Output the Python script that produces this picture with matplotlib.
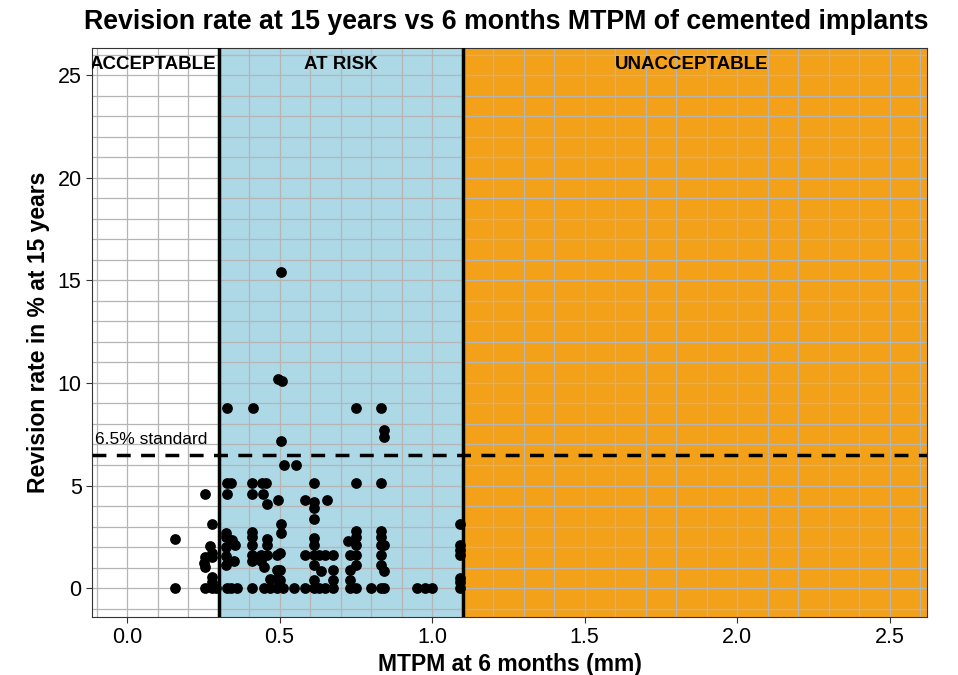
import matplotlib.pyplot as plt
import numpy as np

plt.rcParams['font.family'] = ['Liberation Sans', 'DejaVu Sans']

# MTPM at 6 months (mm) and revision rate (%) at 15 years
mtpm = [0.157, 0.157,
        0.256, 0.256, 0.256, 0.253, 0.256,
        0.277, 0.272, 0.277, 0.277, 0.277, 0.277, 0.277, 0.29,
        0.327, 0.327, 0.34, 0.327, 0.325, 0.325, 0.343, 0.354, 0.325, 0.325, 0.35, 0.325, 0.327, 0.34, 0.36,
        0.414, 0.41, 0.441, 0.455, 0.41, 0.444, 0.458, 0.408, 0.408, 0.408, 0.458, 0.458, 0.408, 0.44, 0.458,
        0.408, 0.44, 0.45, 0.41, 0.45, 0.47, 0.49,
        0.494, 0.507, 0.503, 0.503, 0.496, 0.503, 0.503, 0.5, 0.49, 0.49, 0.5, 0.47, 0.49, 0.51, 0.5,
        0.514, 0.554, 0.547, 0.583, 0.583, 0.583,
        0.614, 0.614, 0.614, 0.614, 0.614, 0.614, 0.614, 0.614, 0.614, 0.614, 0.63, 0.635, 0.63, 0.648, 0.648,
        0.654, 0.674, 0.674, 0.674, 0.674,
        0.725, 0.73, 0.73, 0.73, 0.73, 0.752, 0.752, 0.752, 0.752, 0.752, 0.752, 0.752, 0.752,
        0.80, 0.832, 0.843, 0.843, 0.832, 0.832, 0.832, 0.832, 0.843, 0.832, 0.832, 0.843, 0.832, 0.843,
        0.95, 0.976, 1.0,
        1.09, 1.09, 1.09, 1.09, 1.09, 1.09, 1.09]
revision = [2.4, 0,
            4.6, 1.5, 1.05, 1.2, 0,
            3.1, 2.05, 1.7, 1.5, 0.55, 0.3, 0, 0,
            8.8, 5.1, 5.1, 4.6, 2.7, 2.5, 2.35, 2.1, 2.0, 1.55, 1.3, 1.1, 0, 0, 0,
            8.8, 5.1, 5.1, 5.1, 4.6, 4.6, 4.1, 2.75, 2.5, 2.1, 2.4, 2.1, 1.6, 1.6, 1.6,
            1.3, 1.3, 1.05, 0, 0, 0, 0,
            10.2, 10.1, 15.4, 7.15, 4.3, 3.1, 2.7, 1.7, 1.6, 0.9, 0.4, 0.45, 0.45, 0, 0.9,
            6.0, 6.0, 0, 4.3, 1.6, 0,
            5.1, 4.2, 3.9, 3.35, 2.45, 2.1, 1.6, 1.1, 0.4, 0, 1.6, 0.85, 0, 1.6, 0,
            4.3, 1.6, 0.88, 0.4, 0,
            2.3, 1.6, 0.87, 0.4, 0, 8.8, 5.1, 2.8, 2.5, 2.1, 1.6, 1.1, 0,
            0, 8.8, 7.7, 7.35, 5.1, 2.8, 2.5, 2.1, 2.1, 1.6, 1.1, 0.85, 0, 0,
            0, 0, 0,
            3.1, 2.1, 1.85, 1.6, 0.5, 0.3, 0]

zone_edges = [-0.2, 0.3, 1.1, 2.7]
zone_names = ['ACCEPTABLE', 'AT RISK', 'UNACCEPTABLE']
zone_centres = [0.085, 0.7, 1.85]
zone_colors = ['white', '#ADD8E6', '#F4A11A']
standard = 6.5

fig = plt.figure(figsize=(9.58, 6.75), dpi=100)
ax = fig.add_axes([0.096, 0.086, 0.872, 0.843])

xmin, xmax = -0.115, 2.623
ymin, ymax = -1.41, 26.34

# coloured zones
for i in range(3):
    ax.axvspan(zone_edges[i], zone_edges[i + 1], color=zone_colors[i], zorder=0, lw=0)
    ax.text(zone_centres[i], 25.55, zone_names[i], ha='center', va='center', fontsize=13.5,
            fontweight='bold', clip_on=True, zorder=4)

# grid (every 0.1 mm, every 1 %)
for gx in np.arange(-0.1, 2.7, 0.1):
    ax.axvline(gx, color='#B5B5B5', lw=0.9, zorder=1)
for gy in np.arange(-1, 27, 1):
    ax.axhline(gy, color='#B5B5B5', lw=0.9, zorder=1)

ax.axvline(0.3, color='black', lw=2.5, zorder=3)
ax.axvline(1.1, color='black', lw=2.5, zorder=3)
ax.axhline(standard, color='black', lw=2.5, ls=(0, (4, 3)), zorder=3)
ax.text(-0.105, 7.25, '6.5% standard', fontsize=12.5, va='center', ha='left', zorder=4)

ax.scatter(mtpm, revision, s=60, color='black', zorder=5, linewidths=0)

ax.set_xlim(xmin, xmax)
ax.set_ylim(ymin, ymax)
ax.set_xticks([0, 0.5, 1.0, 1.5, 2.0, 2.5])
ax.set_xticklabels(['0.0', '0.5', '1.0', '1.5', '2.0', '2.5'])
ax.set_yticks([0, 5, 10, 15, 20, 25])
ax.tick_params(labelsize=15.5, length=4, color='#333333', labelcolor='black')
for s in ax.spines.values():
    s.set_color('#333333')
    s.set_linewidth(0.8)

ax.set_xlabel('MTPM at 6 months (mm)', fontsize=16.5, fontweight='bold', labelpad=3)
ax.set_ylabel('Revision rate in % at 15 years', fontsize=16.5, fontweight='bold', labelpad=5)
fig.text(84 / 958, 1 - 22 / 675, 'Revision rate at 15 years vs 6 months MTPM of cemented implants',
         fontsize=19.3, fontweight='bold', ha='left', va='center')

fig.savefig('out.png', dpi=100)
